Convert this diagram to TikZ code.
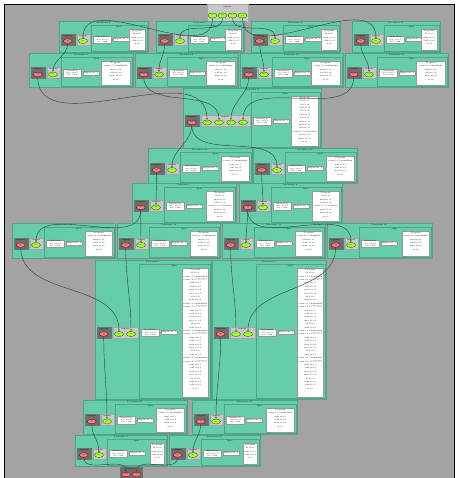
\documentclass[tikz,border=0pt]{standalone}
\usetikzlibrary{arrows.meta,positioning,shapes.geometric}

\definecolor{procfill}{RGB}{102,205,170}
\definecolor{procline}{RGB}{80,165,132}
\definecolor{bggray}{RGB}{163,163,163}
\definecolor{darkbox}{RGB}{108,108,108}
\definecolor{lightbox}{RGB}{200,200,200}
\definecolor{portred}{RGB}{240,128,128}
\definecolor{portgreen}{RGB}{173,255,47}
\definecolor{wirecol}{RGB}{55,70,62}

\newcommand\tinytext{\fontsize{2}{3.4}\selectfont}
\newcommand\optext{\fontsize{2}{2.3}\selectfont}
\newcommand\porttext{\fontsize{1.5}{1.5}\selectfont}

\tikzset{
  proc/.style={draw=procline, fill=procfill, line width=0.9pt, inner sep=0pt, anchor=north west},
  specbox/.style={draw=procline, fill=procfill, line width=0.6pt, inner sep=0pt, anchor=north west},
  outbox/.style={draw=black!55, fill=darkbox, line width=0.4pt, minimum width=14pt, minimum height=11pt, inner sep=0pt, anchor=west},
  inbox/.style={draw=black!35, fill=lightbox, line width=0.4pt, minimum height=11pt, inner sep=0pt, anchor=west},
  outport/.style={ellipse, draw=red!50!black, fill=portred, line width=0.3pt, minimum width=9pt, minimum height=4.5pt, inner sep=0pt, font=\porttext},
  inport/.style={ellipse, draw=green!35!black, fill=portgreen, line width=0.3pt, minimum width=9pt, minimum height=5pt, inner sep=0pt, font=\porttext},
  lbl/.style={inner sep=0pt, font=\tinytext},
  opbox/.style={draw=black!40, fill=white, line width=0.3pt, inner sep=0.5pt, minimum width=18pt, minimum height=7.5pt, align=center, font=\optext, anchor=west},
  regbox/.style={draw=black!40, fill=white, line width=0.3pt, inner sep=0.6pt, minimum width=14pt, minimum height=4pt, font=\optext},
  progbox/.style={draw=black!40, fill=white, line width=0.4pt, inner sep=0pt, anchor=north east},
  progtext/.style={inner sep=0pt, align=center, anchor=north, font=\tinytext},
  wire/.style={draw=wirecol, line width=0.45pt, -{Stealth[length=1.8pt,width=1.4pt]}},
}

% one processor: name, x0, y0, x1, y1, title, inputs, program width, program
\newcommand\procblock[9]{%
  \pgfmathsetmacro\blkw{#4-#2}%
  \pgfmathsetmacro\blkh{#5-#3}%
  \pgfmathsetmacro\blkyc{(#3+#5+4)/2+1}%
  \pgfmathsetmacro\blklx{#2+17.5}%
  \pgfmathsetmacro\blklw{12*#7+1}%
  \pgfmathsetmacro\blksx{\blklx+\blklw+1.5}%
  \pgfmathsetmacro\blksw{#4-1-\blksx}%
  \pgfmathsetmacro\blksh{#5-#3-5}%
  \pgfmathsetmacro\blkph{#5-#3-10}%
  \node[proc, minimum width=\blkw pt, minimum height=\blkh pt] (#1) at (#2,#3) {};
  \node[lbl] (#1title) at (#2+\blkw/2,#3+2.3) {#6};
  \node[outbox] (#1outs) at (#2+1.5,\blkyc) {};
  \node[lbl] (#1outslbl) at ([yshift=-1.8pt]#1outs.north) {outputs};
  \node[outport] (#1o) at ([yshift=-1.5pt]#1outs.center) {out};
  \node[inbox, minimum width=\blklw pt] (#1ins) at (\blklx,\blkyc) {};
  \node[lbl] (#1inslbl) at ([yshift=-1.8pt]#1ins.north) {inputs};
  \foreach \k in {1,...,#7}
    \node[inport] (#1i\k) at (\blklx+6.5+12*\k-12,\blkyc+1.5) {in\k};
  \node[specbox, minimum width=\blksw pt, minimum height=\blksh pt] (#1spec) at (\blksx,#3+4) {};
  \node[lbl] (#1speclbl) at (\blksx+\blksw/2,#3+6.3) {Spec};
  \node[opbox] (#1op) at (\blksx+2,\blkyc) {Operation\\ acc: r0 r1\\ act: relu};
  \node[regbox, right=2pt of #1op] (#1reg) {Registers: 3};
  \node[progbox, minimum width=#8pt, minimum height=\blkph pt] (#1prog) at (#4-2.5,#3+8) {};
  \node[progtext] (#1code) at ([yshift=-0.8pt]#1prog.north) {Program\\ #9};
}

\newcommand\progone{ld r0 i1\\ mul r0 r1\\ add r0 r2\\ st r0}
\newcommand\progtwo{const r1 0.88888888\\ mul r0 r1\\ add r0 r2\\ max r0 r2\\ st r0}
\newcommand\progfour{ld r0 i1\\ mul r0 r1\\ add r0 r2\\ const r1 0.50000000\\ mul r0 r1\\ max r0 r2\\ st r0}
\newcommand\progmid{ld r0 i1\\ ld r1 i2\\ add r0 r1\\ ld r1 i3\\ add r0 r1\\ ld r1 i4\\ add r0 r1\\ mul r0 r0\\ add r0 r1\\ const r1 0.25000000\\ mul r0 r1\\ max r0 r2\\ st r0}
\newcommand\progchunk{const r1 0.88888888\\ const r2 0.77777777\\ mul r0 r1\\ add r0 r2\\ max r0 r2\\ mov r1 r0\\ ld r0 i2\\ mul r0 r2\\}
\newcommand\progbig{ld r0 i1\\ \progchunk\progchunk\progchunk\progchunk add r0 r1\\ st r0}

\begin{document}
\begin{tikzpicture}[x=1pt,y=-1pt]
\useasboundingbox (0,0) rectangle (457,478);
\draw[fill=bggray, draw=black, line width=1.3pt] (4.5,4.5) rectangle (454.5,492);

% input and output ports
\node[inbox, minimum width=41pt, minimum height=17pt, anchor=north west] (inputs) at (207,4) {};
\node[lbl] (inputslbl) at (227.5,7) {Inputs};
\foreach \k/\xx in {1/212.5,2/222.5,3/232.5,4/242.5}
  \node[inport] (in\k) at (\xx,15.5) {in\k};
\node[outbox, minimum width=22pt, minimum height=16pt, anchor=north west] (outputs) at (120,466) {};
\node[lbl] (outputslbl) at (131,469) {Outputs};
\node[outport] (out1) at (126,474.5) {out1};
\node[outport] (out2) at (136.5,474.5) {out2};

% processors
\procblock{pa}{59}{21}{148}{52}{Processor 3}{1}{16}{\progone}
\procblock{pb}{156}{21}{244}{52}{Processor 7}{1}{16}{\progone}
\procblock{pc}{251}{21}{340}{52}{Processor 11}{1}{16}{\progone}
\procblock{pd}{352}{21}{440}{52}{Processor 15}{1}{16}{\progone}
\procblock{qa}{29}{53}{133}{87}{Processor 2}{1}{29}{\progtwo}
\procblock{qb}{135}{53}{238}{87}{Processor 6}{1}{29}{\progtwo}
\procblock{qc}{240}{53}{343}{87}{Processor 10}{1}{29}{\progtwo}
\procblock{qd}{345}{53}{448}{87}{Processor 14}{1}{29}{\progtwo}
\procblock{pm}{183}{88}{321}{148}{Processor 0}{4}{27}{\progmid}
\procblock{ra}{148}{148}{252}{183}{Processor 13}{1}{28}{\progtwo}
\procblock{rb}{253}{148}{357}{183}{Processor 12}{1}{28}{\progtwo}
\procblock{sa}{132}{183}{236}{223}{Processor 5}{1}{27}{\progfour}
\procblock{sb}{239}{183}{342}{223}{Processor 8}{1}{27}{\progfour}
\procblock{ta}{12}{223}{115}{258}{Processor 17}{1}{27}{\progtwo}
\procblock{tb}{117}{223}{220}{258}{Processor 18}{1}{27}{\progtwo}
\procblock{tc}{222}{223}{325}{258}{Processor 19}{1}{27}{\progtwo}
\procblock{td}{327}{223}{432}{258}{Processor 20}{1}{27}{\progtwo}
\procblock{ua}{95}{260}{211}{399}{Processor 1}{2}{26}{\progbig}
\procblock{ub}{212}{260}{326}{399}{Processor 9}{2}{26}{\progbig}
\procblock{va}{83}{400}{187}{434}{Processor 16}{1}{28}{\progtwo}
\procblock{vb}{192}{400}{297}{434}{Processor 21}{1}{28}{\progtwo}
\procblock{wa}{75}{435}{167}{466}{Processor 4}{1}{14}{\progone}
\procblock{wb}{169}{435}{260}{466}{Processor 22}{1}{14}{\progone}

% connections
\draw[wire] (in1) to[out=-90,in=90] (pai1);
\draw[wire] (in2) to[out=-90,in=90] (pbi1);
\draw[wire] (in3) to[out=-90,in=90] (pci1);
\draw[wire] (in4) to[out=-90,in=90] (pdi1);
\draw[wire] (pao) to[out=-90,in=90] (qai1);
\draw[wire] (pbo) to[out=-90,in=90] (qbi1);
\draw[wire] (pco) to[out=-90,in=90] (qci1);
\draw[wire] (pdo) to[out=-90,in=90] (qdi1);
\draw[wire] (qao) to[out=-90,in=90] (pmi1);
\draw[wire] (qbo) to[out=-90,in=90] (pmi2);
\draw[wire] (qco) to[out=-90,in=90] (pmi3);
\draw[wire] (qdo) to[out=-90,in=90] (pmi4);
\draw[wire] (pmo) to[out=-90,in=90] (rai1);
\draw[wire] (pmo) to[out=-90,in=90] (rbi1);
\draw[wire] (rao) to[out=-90,in=90] (sai1);
\draw[wire] (rbo) to[out=-90,in=90] (sbi1);
\draw[wire] (sao) to[out=-90,in=90] (tai1);
\draw[wire] (sao) to[out=-90,in=90] (tbi1);
\draw[wire] (sbo) to[out=-90,in=90] (tci1);
\draw[wire] (sbo) to[out=-90,in=90] (tdi1);
\draw[wire] (tao) to[out=-90,in=90] (uai1);
\draw[wire] (tbo) to[out=-90,in=90] (uai2);
\draw[wire] (tco) to[out=-90,in=90] (ubi1);
\draw[wire] (tdo) to[out=-90,in=90] (ubi2);
\draw[wire] (uao) to[out=-90,in=90] (vai1);
\draw[wire] (ubo) to[out=-90,in=90] (vbi1);
\draw[wire] (vao) to[out=-90,in=90] (wai1);
\draw[wire] (vbo) to[out=-90,in=90] (wbi1);
\draw[wire] (wao) to[out=-90,in=90] (out1);
\draw[wire] (wbo) to[out=-90,in=90] (out2);
\end{tikzpicture}
\end{document}
